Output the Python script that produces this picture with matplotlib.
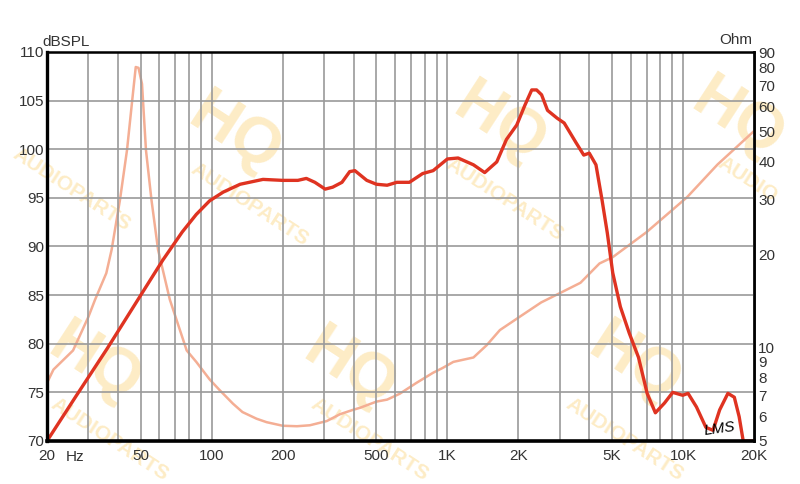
import matplotlib
matplotlib.use("Agg")
import matplotlib.pyplot as plt
from matplotlib.ticker import FixedLocator, NullLocator, NullFormatter

plt.rcParams['font.family'] = ['Liberation Sans', 'DejaVu Sans']

# SPL response (dB)
spl_freq = [20, 26.7, 36, 50, 62, 75, 86, 98, 112, 132, 165, 200, 232, 252, 274,
            303, 326, 357, 385, 405, 455, 500, 555, 610, 690, 785, 870, 1000, 1110,
            1290, 1440, 1620, 1780, 1970, 2130, 2280, 2390, 2510, 2660, 2920, 3130,
            3510, 3790, 4000, 4270, 4530, 4770, 5030, 5420, 5910, 6470, 7040, 7630,
            8340, 9040, 9970, 10500, 11400, 12500, 13400, 14300, 15500, 16500,
            17300, 18000, 20000]
spl_db = [70, 74.7, 79.5, 85.0, 88.6, 91.5, 93.3, 94.7, 95.6, 96.4, 96.9, 96.8,
          96.8, 97.0, 96.6, 95.9, 96.1, 96.6, 97.7, 97.8, 96.8, 96.4, 96.3, 96.6,
          96.6, 97.5, 97.8, 99.0, 99.1, 98.4, 97.6, 98.7, 101.0, 102.5, 104.5,
          106.1, 106.1, 105.6, 104.0, 103.2, 102.7, 100.7, 99.4, 99.6, 98.4, 94.8,
          91.4, 87.3, 83.8, 81.1, 78.6, 74.9, 72.9, 73.9, 75.0, 74.7, 74.9, 73.5,
          71.4, 71.1, 73.2, 74.9, 74.5, 72.5, 70.0, 70.0]

# impedance (Ohm)
imp_freq = [20, 21.3, 25.8, 30, 32, 35.7, 37.6, 40.8, 43.7, 46, 47.6, 48.9, 50.6,
            52.6, 55.5, 59.2, 66.4, 78.3, 86, 98, 108, 123, 135, 155, 171, 200, 230,
            261, 308, 350, 397, 426, 500, 555, 627, 739, 869, 954, 1060, 1290, 1470,
            1670, 2000, 2500, 3000, 3670, 4420, 5030, 7000, 10400, 14000, 20000]
imp_ohm = [7.7, 8.5, 9.8, 12.6, 14.3, 17.4, 20.7, 30, 43.4, 63, 80.5, 80, 71, 43.4,
           30, 20.7, 14.3, 9.8, 9.0, 7.9, 7.3, 6.6, 6.2, 5.9, 5.75, 5.6, 5.58, 5.62,
           5.8, 6.1, 6.3, 6.4, 6.7, 6.8, 7.1, 7.7, 8.3, 8.6, 9.0, 9.3, 10.2, 11.4,
           12.5, 14, 15, 16.2, 18.7, 19.6, 23.6, 30.6, 39, 50]

x_ticks = [20, 50, 100, 200, 500, 1000, 2000, 5000, 10000, 20000]
x_labels = ['20', '50', '100', '200', '500', '1K', '2K', '5K', '10K', '20K']
x_grid = [30, 40, 50, 60, 70, 80, 90,
          100, 200, 300, 400, 500, 600, 700, 800, 900,
          1000, 2000, 3000, 4000, 5000, 6000, 7000, 8000, 9000, 10000, 20000]
db_ticks = [70, 75, 80, 85, 90, 95, 100, 105, 110]
ohm_ticks = [5, 6, 7, 8, 9, 10, 20, 30, 40, 50, 60, 70, 80, 90]

fig = plt.figure(figsize=(8, 4.84), dpi=100)
fig.patch.set_facecolor('white')

# faint watermark
wm_color = '#fbd580'
marks = [(235, 135, 'HQ', 46), (250, 205, 'AUDIOPARTS', 15),
         (500, 125, 'HQ', 46), (505, 200, 'AUDIOPARTS', 15),
         (738, 120, 'HQ', 46), (748, 180, 'AUDIO', 15),
         (72, 190, 'AUDIOPARTS', 15),
         (350, 370, 'HQ', 46), (370, 440, 'AUDIOPARTS', 15),
         (95, 365, 'HQ', 46), (110, 440, 'AUDIOPARTS', 15),
         (635, 365, 'HQ', 46), (625, 440, 'AUDIOPARTS', 15)]
for px, py, s, fs in marks:
    fig.text(px / 800, 1 - py / 484, s, color=wm_color, alpha=0.45, fontsize=fs,
             fontweight='bold', rotation=-33, ha='center', va='center', zorder=0.5)

rect = [47 / 800, 1 - 441 / 484, 707 / 800, 389 / 484]
ax = fig.add_axes(rect)
ax2 = ax.twinx()
ax.set_zorder(2)
ax2.set_zorder(1)
ax.patch.set_visible(False)
ax2.patch.set_visible(False)

ax2.plot(imp_freq, imp_ohm, color='#f4ae94', lw=1.8, solid_capstyle='round',
         solid_joinstyle='round')
ax2.set_yscale('log')
ax2.set_ylim(5, 90)
ax2.yaxis.set_major_locator(FixedLocator(ohm_ticks))
ax2.yaxis.set_minor_locator(NullLocator())
ax2.yaxis.set_minor_formatter(NullFormatter())
ax2.set_yticklabels([str(t) for t in ohm_ticks])

ax.plot(spl_freq, spl_db, color='#df3321', lw=2.4, solid_capstyle='round',
        solid_joinstyle='round')
ax.set_xscale('log')
ax.set_xlim(20, 20000)
ax.set_ylim(70, 110)
ax.set_yticks(db_ticks)
ax.xaxis.set_major_locator(FixedLocator(x_ticks))
ax.xaxis.set_minor_locator(NullLocator())
ax.set_xticklabels(x_labels)

for f in x_grid:
    ax.axvline(f, color='#9a9a9a', lw=1.2, zorder=0)
for d in db_ticks:
    ax.axhline(d, color='#9a9a9a', lw=1.2, zorder=0)

for a in (ax, ax2):
    a.tick_params(length=0, labelsize=11, labelcolor='#333333')
    for s in a.spines.values():
        s.set_color('black')
ax.spines['left'].set_linewidth(2.4)
ax.spines['bottom'].set_linewidth(2.6)
ax.spines['top'].set_linewidth(1.8)
ax.spines['right'].set_linewidth(1.8)
ax2.spines['right'].set_linewidth(1.8)
ax.tick_params(axis='y', pad=2)
ax.tick_params(axis='x', pad=6)
ax2.tick_params(axis='y', pad=3)

fig.text(42 / 800, 1 - 42 / 484, 'dBSPL', fontsize=11, color='#333333',
         ha='left', va='center')
fig.text(752 / 800, 1 - 40 / 484, 'Ohm', fontsize=11, color='#333333',
         ha='right', va='center')
fig.text(66 / 800, 1 - 457 / 484, 'Hz', fontsize=11, color='#333333',
         ha='left', va='center')
ax.text(14300, 71.3, 'LMS', fontsize=11, style='italic', color='black',
        ha='center', va='center', rotation=8, zorder=5)

fig.savefig('out.png', dpi=100)
